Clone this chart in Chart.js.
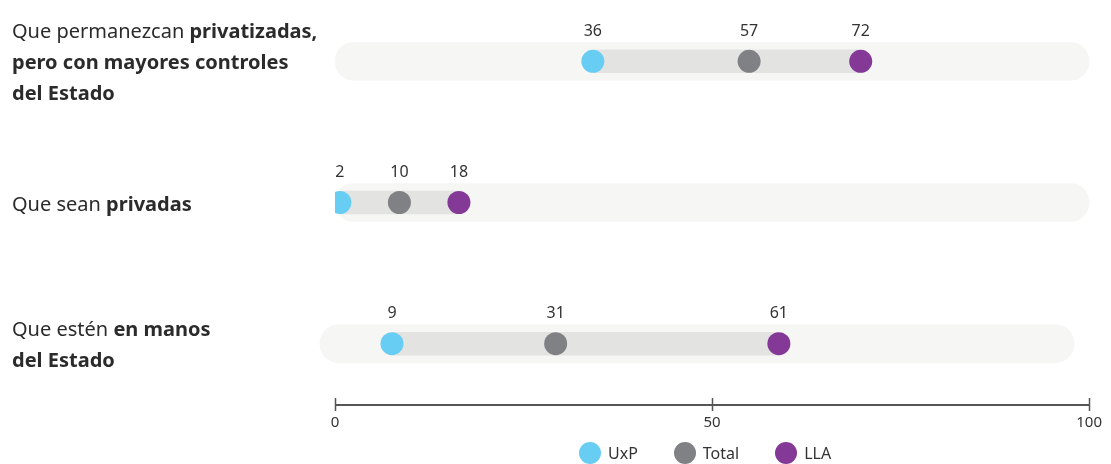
<!DOCTYPE html>
<html lang="es">
<head>
<meta charset="utf-8">
<title>Empresas privatizadas</title>
<script src="https://cdn.jsdelivr.net/npm/chart.js@4.4.0/dist/chart.umd.min.js"></script>
<style>
    html, body { margin: 0; padding: 0; background: #fff; }
    #wrap { position: relative; width: 1111px; height: 464px; font-family: "Noto Sans", sans-serif; color: #2b2b2b; }
    #chart { position: absolute; left: 0; top: 0; }
    .row-label { position: absolute; left: 12px; font-size: 20px; line-height: 31px; transform: translateY(-50%); white-space: nowrap; }
    .row-label b { font-weight: 700; }
    #legend { position: absolute; left: 579px; top: 442px; display: flex; align-items: center; font-size: 16px; color: #333; }
    #legend .item { display: flex; align-items: center; margin-right: 36px; }
    #legend .dot { width: 22px; height: 22px; border-radius: 50%; margin-right: 7px; }
</style>
</head>
<body>
<div id="wrap">
    <canvas id="chart" width="1111" height="464"></canvas>
    <div id="legend"></div>
</div>
<script>
// Categories (bold parts marked up)
const categories = [
    'Que permanezcan <b>privatizadas,<br>pero con mayores controles<br>del Estado</b>',
    'Que sean <b>privadas</b>',
    'Que estén <b>en manos<br>del Estado</b>'
];

// Series values (%)
const seriesNames = ['UxP', 'Total', 'LLA'];
const uxp = [36, 2, 9];
const total = [57, 10, 31];
const lla = [72, 18, 61];

// Background track extent per row, as drawn in the original
const trackFrom = [0, 0, -2];
const trackTo = [100, 100, 98];

// Axis ticks
const axisTicks = [0, 50, 100];

const colors = ['#67cdf3', '#808185', '#843996'];
const seriesData = [uxp, total, lla];

/**
 * Value labels above each dot
 */
const valueLabels = {
    id: 'valueLabels',
    afterDatasetsDraw(chart) {
        const ctx = chart.ctx;
        ctx.save();
        ctx.font = '16px "Noto Sans", sans-serif';
        ctx.fillStyle = '#333';
        ctx.textAlign = 'center';
        ctx.textBaseline = 'middle';
        chart.data.datasets.forEach((ds, di) => {
            if (ds.type !== 'line') return;
            chart.getDatasetMeta(di).data.forEach((pt, i) => {
                ctx.fillText(ds.data[i].x, pt.x, pt.y - 30);
            });
        });
        ctx.restore();
    }
};

/**
 * Axis line with ticks crossing it
 */
const axisLine = {
    id: 'axisLine',
    afterDraw(chart) {
        const ctx = chart.ctx;
        const sc = chart.scales.x2;
        const y = chart.chartArea.bottom;
        ctx.save();
        ctx.strokeStyle = '#555';
        ctx.lineWidth = 2;
        ctx.beginPath();
        ctx.moveTo(sc.getPixelForValue(axisTicks[0]), y);
        ctx.lineTo(sc.getPixelForValue(axisTicks[axisTicks.length - 1]), y);
        ctx.stroke();
        ctx.lineWidth = 1.5;
        axisTicks.forEach(v => {
            const x = Math.round(sc.getPixelForValue(v)) + 0.5;
            ctx.beginPath();
            ctx.moveTo(x, y - 7);
            ctx.lineTo(x, y + 6);
            ctx.stroke();
        });
        ctx.restore();
    }
};

/**
 * Clip dots to the start of the track
 */
const dotClip = {
    id: 'dotClip',
    beforeDatasetDraw(chart, args) {
        if (chart.data.datasets[args.index].type !== 'line') return;
        const ctx = chart.ctx;
        ctx.save();
        ctx.beginPath();
        const left = chart.scales.x2.getPixelForValue(0);
        ctx.rect(left, 0, chart.width - left, chart.height);
        ctx.clip();
    },
    afterDatasetDraw(chart, args) {
        if (chart.data.datasets[args.index].type !== 'line') return;
        chart.ctx.restore();
    }
};

const datasets = [];

seriesNames.forEach((name, s) => {
    datasets.push({
        type: 'line',
        label: name,
        data: seriesData[s].map((v, i) => ({ x: v, y: i })),
        xAxisID: 'x',
        showLine: false,
        clip: false,
        pointRadius: 11.5,
        pointHoverRadius: 11.5,
        pointBorderWidth: 0,
        pointBackgroundColor: colors[s],
        backgroundColor: colors[s],
        borderColor: colors[s],
        order: 1
    });
});

datasets.push({
    type: 'bar',
    label: 'rango',
    data: categories.map((c, i) => ({
        x: [Math.min(uxp[i], total[i], lla[i]), Math.max(uxp[i], total[i], lla[i])],
        y: i
    })),
    xAxisID: 'x',
    backgroundColor: '#e3e3e2',
    barThickness: 23,
    grouped: false,
    borderSkipped: false,
    borderRadius: 0,
    order: 2
});

datasets.push({
    type: 'bar',
    label: 'fondo',
    data: categories.map((c, i) => ({ x: [trackFrom[i], trackTo[i]], y: i })),
    xAxisID: 'x2',
    backgroundColor: '#f6f6f4',
    barThickness: 38,
    grouped: false,
    borderSkipped: false,
    borderRadius: 19,
    clip: false,
    order: 3
});

const chart = new Chart(document.getElementById('chart'), {
    type: 'bar',
    data: { datasets: datasets },
    options: {
        indexAxis: 'y',
        responsive: false,
        animation: false,
        events: [],
        layout: {
            autoPadding: false,
            padding: { left: 325, right: 20, top: 0, bottom: 23 }
        },
        plugins: {
            legend: { display: false },
            tooltip: { enabled: false }
        },
        scales: {
            y: {
                type: 'linear',
                reverse: true,
                offset: false,
                grid: { offset: false },
                min: -0.434,
                max: 2.434,
                display: false
            },
            x: {
                type: 'linear',
                min: 0,
                max: 102.7,
                display: false
            },
            x2: {
                type: 'linear',
                position: 'bottom',
                min: -1.32,
                max: 100,
                grid: { display: false, drawTicks: false },
                border: { display: false },
                afterBuildTicks: sc => { sc.ticks = axisTicks.map(v => ({ value: v })); },
                ticks: {
                    padding: 9,
                    color: '#333',
                    font: { family: '"Noto Sans", sans-serif', size: 15 }
                }
            }
        }
    },
    plugins: [dotClip, valueLabels, axisLine]
});

// Row labels placed on the y scale
const wrap = document.getElementById('wrap');
categories.forEach((html, i) => {
    const div = document.createElement('div');
    div.className = 'row-label';
    div.innerHTML = html;
    div.style.top = chart.scales.y.getPixelForValue(i) + 'px';
    wrap.appendChild(div);
});

// Legend
const legend = document.getElementById('legend');
seriesNames.forEach((name, s) => {
    const item = document.createElement('div');
    item.className = 'item';
    item.innerHTML = '<span class="dot" style="background:' + colors[s] + '"></span><span>' + name + '</span>';
    legend.appendChild(item);
});
</script>
</body>
</html>
